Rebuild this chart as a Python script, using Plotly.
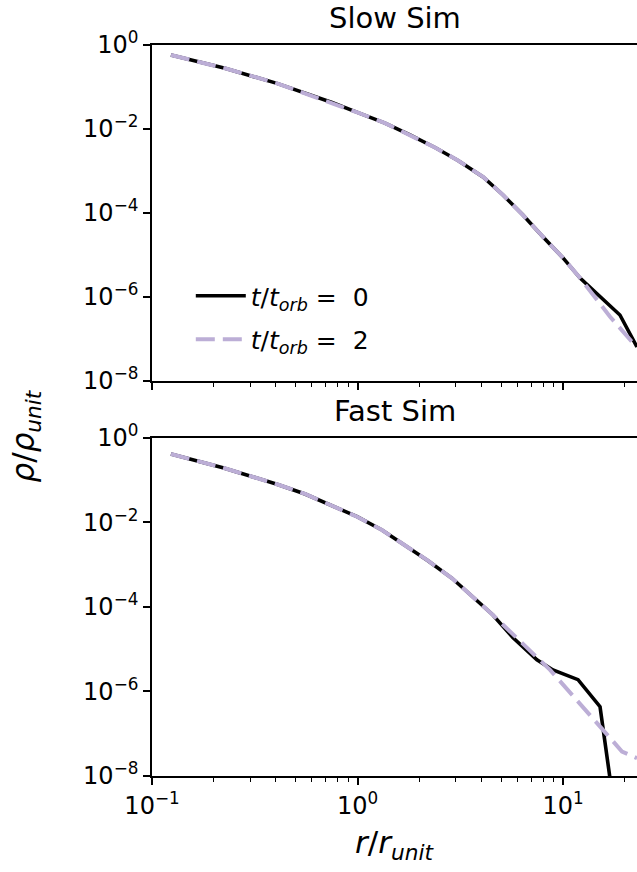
import plotly.graph_objects as go
from plotly.subplots import make_subplots

# Radial density profiles, slow simulation
slow_r0 = [0.1236, 0.2265, 0.4055, 0.5875, 0.7516, 1.005, 1.361, 1.799, 2.382, 3.083,
           4.083, 5.105, 6.383, 7.998, 10.0, 12.11, 15.14, 18.92, 22.9]
slow_rho0 = [5.78e-1, 2.79e-1, 1.22e-1, 6.46e-2, 4.27e-2, 2.45e-2, 1.38e-2, 7.24e-3, 3.63e-3, 1.78e-3,
             7.24e-4, 2.69e-4, 8.91e-5, 2.69e-5, 8.51e-6, 2.82e-6, 1.0e-6, 3.72e-7, 6.46e-8]
slow_r2 = [0.1236, 0.2265, 0.4055, 0.5875, 0.7516, 1.005, 1.361, 1.799, 2.382, 3.083,
           4.083, 5.105, 6.383, 7.998, 10.0, 12.11, 16.94, 21.58, 22.9]
slow_rho2 = [5.78e-1, 2.79e-1, 1.22e-1, 6.46e-2, 4.27e-2, 2.45e-2, 1.38e-2, 7.24e-3, 3.63e-3, 1.78e-3,
             7.24e-4, 2.69e-4, 8.91e-5, 2.69e-5, 8.51e-6, 2.82e-6, 3.39e-7, 8.71e-8, 6.31e-8]

# Radial density profiles, fast simulation
fast_r0 = [0.1236, 0.1656, 0.2213, 0.2999, 0.4055, 0.5559, 0.7345, 0.9954, 1.315, 1.702,
           2.203, 2.884, 4.560, 5.715, 7.464, 8.933, 11.83, 15.14, 18.62]
fast_rho0 = [0.4178, 0.2904, 0.1982, 0.1262, 0.0804, 0.0473, 0.02594, 0.01371, 6.64e-3, 2.93e-3,
             1.247e-3, 4.78e-4, 6.46e-5, 1.862e-5, 5.62e-6, 3.24e-6, 1.905e-6, 4.37e-7, 3.16e-10]
fast_r2 = [0.1236, 0.1656, 0.2213, 0.2999, 0.4055, 0.5559, 0.7345, 0.9954, 1.315, 1.702,
           2.203, 2.884, 4.560, 8.650, 11.69, 19.36, 22.91]
fast_rho2 = [0.4178, 0.2904, 0.1982, 0.1262, 0.0804, 0.0473, 0.02594, 0.01371, 6.64e-3, 2.93e-3,
             1.247e-3, 4.78e-4, 6.46e-5, 3.24e-6, 6.31e-7, 3.80e-8, 2.63e-8]

panel_titles = ["Slow Sim", "Fast Sim"]
legend_labels = ["<i>t</i>/<i>t</i><sub><i>orb</i></sub> =  0",
                 "<i>t</i>/<i>t</i><sub><i>orb</i></sub> =  2"]
x_tickvals = [0.1, 1, 10]
x_ticktext = ["10<sup>\u22121</sup>", "10<sup>0</sup>", "10<sup>1</sup>"]
x_minor = [m * 10 ** e for e in (-1, 0, 1) for m in range(2, 10)]
y_tickvals = [1e-8, 1e-6, 1e-4, 1e-2, 1]
y_ticktext = ["10<sup>\u22128</sup>", "10<sup>\u22126</sup>", "10<sup>\u22124</sup>",
              "10<sup>\u22122</sup>", "10<sup>0</sup>"]

BLACK = "#000000"
LAVENDER = "#bcaed6"
FONT = "DejaVu Sans"

fig = make_subplots(rows=2, cols=1, shared_xaxes=True, vertical_spacing=0.078)

panels = [(slow_r0, slow_rho0, slow_r2, slow_rho2), (fast_r0, fast_rho0, fast_r2, fast_rho2)]
for i, (r0, d0, r2, d2) in enumerate(panels, start=1):
    fig.add_trace(go.Scatter(x=r0, y=d0, mode="lines", name=legend_labels[0],
                             legendgroup="t0", showlegend=(i == 1),
                             line=dict(color=BLACK, width=3.6)), row=i, col=1)
    fig.add_trace(go.Scatter(x=r2, y=d2, mode="lines", name=legend_labels[1],
                             legendgroup="t2", showlegend=(i == 1),
                             line=dict(color=LAVENDER, width=4, dash="19px,8px")), row=i, col=1)

axis_common = dict(showline=True, linecolor="black", linewidth=1.6, ticks="outside",
                   ticklen=7, tickwidth=1.5, tickcolor="black", showgrid=False, zeroline=False,
                   tickfont=dict(family=FONT, size=24, color="black"))

for i in (1, 2):
    fig.update_xaxes(type="log", range=[-1, 1.36], mirror=True,
                     tickvals=x_tickvals, ticktext=x_ticktext,
                     minor=dict(tickvals=x_minor, ticks="outside", ticklen=4, tickwidth=1,
                                tickcolor="black", showgrid=False),
                     showticklabels=(i == 2), row=i, col=1, **axis_common)
    fig.update_yaxes(type="log", range=[-8, 0], mirror=False,
                     tickvals=y_tickvals, ticktext=y_ticktext, row=i, col=1, **axis_common)

fig.update_layout(
    width=637, height=872,
    margin=dict(l=152, r=0, t=45, b=96),
    paper_bgcolor="white", plot_bgcolor="white",
    font=dict(family=FONT, color="black"),
    showlegend=True,
    legend=dict(x=0.08, y=0.688, xanchor="left", yanchor="top",
                bgcolor="rgba(0,0,0,0)", font=dict(family=FONT, size=25),
                traceorder="grouped", tracegroupgap=8, itemwidth=50),
)
fig.layout.yaxis.domain = [0.5404, 1.0]
fig.layout.yaxis2.domain = [0.0, 0.4624]

fig.layout.annotations = []
fig.add_annotation(text=panel_titles[0], x=0.5, y=1.037, xref="paper", yref="paper",
                   showarrow=False, font=dict(family=FONT, size=29), xanchor="center", yanchor="middle")
fig.add_annotation(text=panel_titles[1], x=0.5, y=0.4993, xref="paper", yref="paper",
                   showarrow=False, font=dict(family=FONT, size=29), xanchor="center", yanchor="middle")
fig.add_annotation(text="<i>r</i>/<i>r</i><sub><i>unit</i></sub>", x=0.5, y=-0.094,
                   xref="paper", yref="paper", showarrow=False,
                   font=dict(family=FONT, size=31), xanchor="center", yanchor="middle")
fig.add_annotation(text="<i>\u03c1</i>/<i>\u03c1</i><sub><i>unit</i></sub>", x=-0.261, y=0.465,
                   xref="paper", yref="paper", showarrow=False, textangle=-90,
                   font=dict(family=FONT, size=31), xanchor="center", yanchor="middle")

fig.write_html("out.html")
